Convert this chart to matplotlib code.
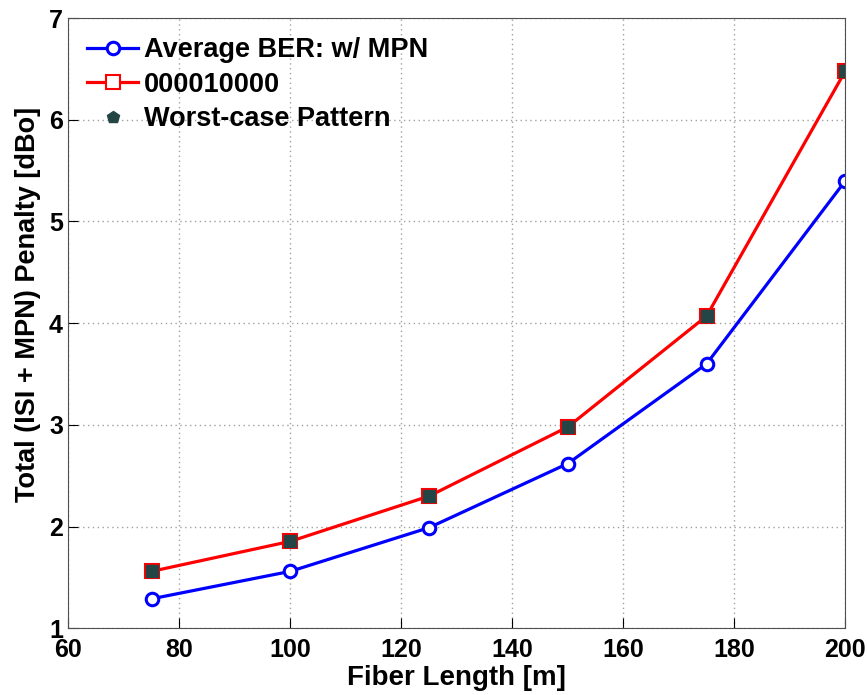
import numpy as np
import matplotlib
matplotlib.use('Agg')
import matplotlib.pyplot as plt
from matplotlib.lines import Line2D

fiber_len = [75, 100, 125, 150, 175, 200]
avg_ber = [1.29, 1.56, 1.99, 2.62, 3.60, 5.40]
pat_000010000 = [1.56, 1.855, 2.30, 2.98, 4.07, 6.48]
worst_case = [1.56, 1.855, 2.30, 2.98, 4.07, 6.48]

plt.rcParams['font.family'] = ['Liberation Sans', 'DejaVu Sans']
plt.rcParams['font.weight'] = 'bold'

fig = plt.figure(figsize=(8.67, 6.95), dpi=100)
ax = fig.add_axes([0.079, 0.096, 0.896, 0.878])

dark = '#234545'
l1, = ax.plot(fiber_len, avg_ber, '-o', color='#0000ff', lw=2.3, ms=9, mfc='white', mew=2.2,
              label='Average BER: w/ MPN')
l2, = ax.plot(fiber_len, pat_000010000, '-s', color='#ff0000', lw=2.3, ms=9.5, mfc='white', mew=1.5,
              label='000010000')
ax.plot(fiber_len, worst_case, 's', color=dark, ms=8, ls='none')
l3 = Line2D([], [], marker='p', color=dark, ms=9, ls='none', label='Worst-case Pattern')

ax.set_xlim(60, 200)
ax.set_ylim(1, 7)
ax.set_xticks(np.arange(60, 201, 20))
ax.set_yticks(np.arange(1, 8, 1))
ax.grid(True, ls=(0, (1, 2.5)), color='#a0a0a0', lw=1)
ax.tick_params(direction='in', length=7, labelsize=18, top=False, right=False, pad=4)
ax.tick_params(axis='x', pad=7)
for lab in ax.get_xticklabels() + ax.get_yticklabels():
    lab.set_fontweight('bold')
for s in ax.spines.values():
    s.set_color('#505050')

ax.set_xlabel('Fiber Length [m]', fontsize=20, fontweight='bold', labelpad=2)
ax.set_ylabel('Total (ISI + MPN) Penalty [dBo]', fontsize=19.5, fontweight='bold')
ax.yaxis.set_label_coords(-0.036, 0.53)

leg = ax.legend(handles=[l1, l2, l3], loc='upper left', frameon=False, fontsize=19.5,
                handlelength=1.85, handletextpad=0.25, labelspacing=0.32,
                borderaxespad=0.3)
for t in leg.get_texts():
    t.set_fontweight('bold')

fig.savefig('out.png', dpi=100)
